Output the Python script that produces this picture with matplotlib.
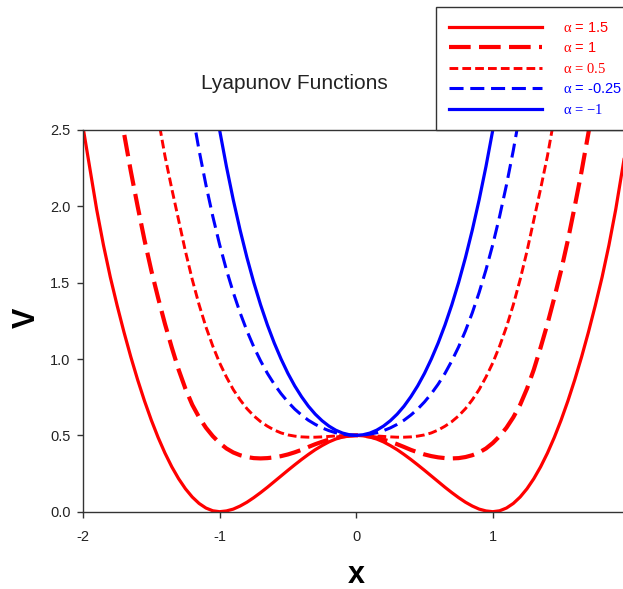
import matplotlib.pyplot as plt
from matplotlib.ticker import FormatStrFormatter

plt.rcParams['font.family'] = ['Liberation Sans', 'DejaVu Sans']
plt.rcParams['axes.unicode_minus'] = False
plt.rcParams['mathtext.fontset'] = 'custom'
plt.rcParams['mathtext.rm'] = 'Liberation Serif'
plt.rcParams['mathtext.it'] = 'Liberation Serif:italic'

# V(x) for each alpha, sampled every 0.05
x_a15 = [-2.0, -1.95, -1.9, -1.85, -1.8, -1.75, -1.7, -1.65, -1.6, -1.55, -1.5,
         -1.45, -1.4, -1.35, -1.3, -1.25, -1.2, -1.15, -1.1, -1.05, -1.0,
         -0.95, -0.9, -0.85, -0.8, -0.75, -0.7, -0.65, -0.6, -0.55, -0.5,
         -0.45, -0.4, -0.35, -0.3, -0.25, -0.2, -0.15, -0.1, -0.05, 0.0,
         0.05, 0.1, 0.15, 0.2, 0.25, 0.3, 0.35, 0.4, 0.45, 0.5,
         0.55, 0.6, 0.65, 0.7, 0.75, 0.8, 0.85, 0.9, 0.95, 1.0,
         1.05, 1.1, 1.15, 1.2, 1.25, 1.3, 1.35, 1.4, 1.45, 1.5,
         1.55, 1.6, 1.65, 1.7, 1.75, 1.8, 1.85, 1.9, 1.95, 2.0]
v_a15 = [2.52, 2.25, 1.98, 1.745, 1.536, 1.35, 1.176, 1.014, 0.864, 0.726, 0.600,
         0.486, 0.384, 0.294, 0.216, 0.150, 0.096, 0.054, 0.024, 0.006, 0.0,
         0.005, 0.017, 0.037, 0.062, 0.092, 0.125, 0.160, 0.197, 0.234, 0.271,
         0.307, 0.342, 0.375, 0.406, 0.433, 0.457, 0.476, 0.489, 0.497, 0.500,
         0.497, 0.489, 0.476, 0.457, 0.433, 0.406, 0.375, 0.342, 0.307, 0.271,
         0.234, 0.197, 0.160, 0.125, 0.092, 0.062, 0.037, 0.017, 0.005, 0.0,
         0.006, 0.024, 0.054, 0.096, 0.150, 0.216, 0.294, 0.384, 0.486, 0.600,
         0.726, 0.864, 1.014, 1.176, 1.35, 1.536, 1.745, 1.98, 2.25, 2.52]

x_a10 = [-1.8, -1.75, -1.7, -1.65, -1.6, -1.55, -1.5, -1.45, -1.4, -1.35, -1.3,
         -1.25, -1.2, -1.15, -1.1, -1.05, -1.0, -0.95, -0.9, -0.85, -0.8,
         -0.75, -0.7, -0.65, -0.6, -0.55, -0.5, -0.45, -0.4, -0.35, -0.3,
         -0.25, -0.2, -0.15, -0.1, -0.05, 0.0,
         0.05, 0.1, 0.15, 0.2, 0.25, 0.3, 0.35, 0.4, 0.45, 0.5,
         0.55, 0.6, 0.65, 0.7, 0.75, 0.8, 0.85, 0.9, 0.95, 1.0,
         1.05, 1.1, 1.15, 1.2, 1.25, 1.3, 1.35, 1.4, 1.45, 1.5,
         1.55, 1.6, 1.65, 1.7, 1.75, 1.8]
v_a10 = [3.05, 2.75, 2.48, 2.23, 2.00, 1.78, 1.58, 1.40, 1.23, 1.075, 0.93,
         0.805, 0.70, 0.618, 0.55, 0.495, 0.45, 0.414, 0.388, 0.370, 0.358,
         0.351, 0.349, 0.351, 0.356, 0.364, 0.375, 0.389, 0.405, 0.424, 0.442,
         0.458, 0.472, 0.484, 0.493, 0.498, 0.500,
         0.498, 0.493, 0.484, 0.472, 0.458, 0.442, 0.424, 0.405, 0.389, 0.375,
         0.364, 0.356, 0.351, 0.349, 0.351, 0.358, 0.370, 0.388, 0.414, 0.45,
         0.495, 0.55, 0.618, 0.70, 0.805, 0.93, 1.075, 1.23, 1.40, 1.58,
         1.78, 2.00, 2.23, 2.48, 2.75, 3.05]

x_a05 = [-1.5, -1.45, -1.4, -1.35, -1.3, -1.25, -1.2, -1.15, -1.1, -1.05, -1.0,
         -0.95, -0.9, -0.85, -0.8, -0.75, -0.7, -0.65, -0.6, -0.55, -0.5,
         -0.45, -0.4, -0.35, -0.3, -0.25, -0.2, -0.15, -0.1, -0.05, 0.0,
         0.05, 0.1, 0.15, 0.2, 0.25, 0.3, 0.35, 0.4, 0.45, 0.5,
         0.55, 0.6, 0.65, 0.7, 0.75, 0.8, 0.85, 0.9, 0.95, 1.0,
         1.05, 1.1, 1.15, 1.2, 1.25, 1.3, 1.35, 1.4, 1.45, 1.5]
v_a05 = [2.85, 2.58, 2.33, 2.115, 1.91, 1.705, 1.52, 1.355, 1.21, 1.085, 0.975,
         0.882, 0.80, 0.733, 0.675, 0.628, 0.59, 0.560, 0.535, 0.516, 0.503,
         0.495, 0.490, 0.488, 0.488, 0.490, 0.493, 0.496, 0.498, 0.4995, 0.500,
         0.4995, 0.498, 0.496, 0.493, 0.490, 0.488, 0.488, 0.490, 0.495, 0.503,
         0.516, 0.535, 0.560, 0.59, 0.628, 0.675, 0.733, 0.80, 0.882, 0.975,
         1.085, 1.21, 1.355, 1.52, 1.705, 1.91, 2.115, 2.33, 2.58, 2.85]

x_am025 = [-1.2, -1.15, -1.1, -1.05, -1.0, -0.95, -0.9, -0.85, -0.8, -0.75, -0.7,
           -0.65, -0.6, -0.55, -0.5, -0.45, -0.4, -0.35, -0.3, -0.25, -0.2,
           -0.15, -0.1, -0.05, 0.0,
           0.05, 0.1, 0.15, 0.2, 0.25, 0.3, 0.35, 0.4, 0.45, 0.5,
           0.55, 0.6, 0.65, 0.7, 0.75, 0.8, 0.85, 0.9, 0.95, 1.0,
           1.05, 1.1, 1.15, 1.2]
v_am025 = [2.617, 2.366, 2.140, 1.935, 1.750, 1.584, 1.436, 1.303, 1.185, 1.080, 0.988,
           0.906, 0.835, 0.773, 0.719, 0.672, 0.633, 0.599, 0.572, 0.549, 0.531,
           0.517, 0.508, 0.502, 0.500,
           0.502, 0.508, 0.517, 0.531, 0.549, 0.572, 0.599, 0.633, 0.672, 0.719,
           0.773, 0.835, 0.906, 0.988, 1.080, 1.185, 1.303, 1.436, 1.584, 1.750,
           1.935, 2.140, 2.366, 2.617]

x_am1 = [-1.05, -1.0, -0.95, -0.9, -0.85, -0.8, -0.75, -0.7, -0.65, -0.6, -0.55,
         -0.5, -0.45, -0.4, -0.35, -0.3, -0.25, -0.2, -0.15, -0.1, -0.05, 0.0,
         0.05, 0.1, 0.15, 0.2, 0.25, 0.3, 0.35, 0.4, 0.45, 0.5,
         0.55, 0.6, 0.65, 0.7, 0.75, 0.8, 0.85, 0.9, 0.95, 1.0, 1.05]
v_am1 = [2.762, 2.500, 2.261, 2.043, 1.845, 1.665, 1.502, 1.355, 1.223, 1.105, 1.000,
         0.906, 0.824, 0.753, 0.691, 0.639, 0.596, 0.561, 0.534, 0.515, 0.504, 0.500,
         0.504, 0.515, 0.534, 0.561, 0.596, 0.639, 0.691, 0.753, 0.824, 0.906,
         1.000, 1.105, 1.223, 1.355, 1.502, 1.665, 1.845, 2.043, 2.261, 2.500, 2.762]

labels = [r'$\mathrm{\alpha}$ = 1.5', r'$\mathrm{\alpha}$ = 1', r'$\mathrm{\alpha}$ = 0.5',
          r'$\mathrm{\alpha}$ = -0.25', r'$\mathrm{\alpha}$ = ' + '\u22121']

fig = plt.figure(figsize=(6.23, 5.89), dpi=100)
ax = fig.add_axes([83 / 623, 77.3 / 589, 546.4 / 623, 381.7 / 589])

ax.plot(x_a15, v_a15, color='red', lw=2.3, label=labels[0])
ax.plot(x_a10, v_a10, color='red', lw=3.0, dashes=(5.2, 2.0), label=labels[1])
ax.plot(x_a05, v_a05, color='red', lw=2.1, dashes=(3.0, 1.4), label=labels[2])
ax.plot(x_am025, v_am025, color='blue', lw=2.2, dashes=(4.6, 2.2), label=labels[3])
ax.plot(x_am1, v_am1, color='blue', lw=2.3, label=labels[4])

ax.set_xlim(-2, 2)
ax.set_ylim(0, 2.5)
ax.set_xticks([-2, -1, 0, 1])
ax.set_yticks([0, 0.5, 1.0, 1.5, 2.0, 2.5])
ax.yaxis.set_major_formatter(FormatStrFormatter('%.1f'))
for s in ax.spines.values():
    s.set_color('#333333')
    s.set_linewidth(1.0)
ax.tick_params(direction='out', length=4, width=1, color='#333333',
               labelsize=10.5, labelcolor='#222222')
ax.tick_params(axis='x', pad=9)
ax.tick_params(axis='y', pad=5)

fig.text(294 / 623, 1 - 83.5 / 589, 'Lyapunov Functions', ha='center', va='center',
         fontsize=15, color='#222222')
fig.text(356 / 623, 1 - 583 / 589, 'x', ha='center', va='baseline',
         fontsize=22, fontweight='bold')
fig.text(26.5 / 623, 1 - 318 / 589, 'V', ha='center', va='center', rotation=90,
         fontsize=22, fontweight='bold')

leg = fig.legend(loc='upper left', bbox_to_anchor=(435.7 / 623, 0.75, 0.4, 1 - 7.3 / 589 - 0.75),
                 mode='expand', fontsize=10.5, handlelength=6.4, handletextpad=1.43,
                 labelspacing=0.45, borderpad=0.92, borderaxespad=0,
                 fancybox=False, framealpha=1, edgecolor='#333333')
leg.get_frame().set_linewidth(1.0)
for txt, c in zip(leg.get_texts(), ['red', 'red', 'red', 'blue', 'blue']):
    txt.set_color(c)
leg.get_texts()[2].set_fontfamily('Liberation Serif')
leg.get_texts()[4].set_fontfamily('Liberation Serif')

fig.savefig('out.png', dpi=100)
